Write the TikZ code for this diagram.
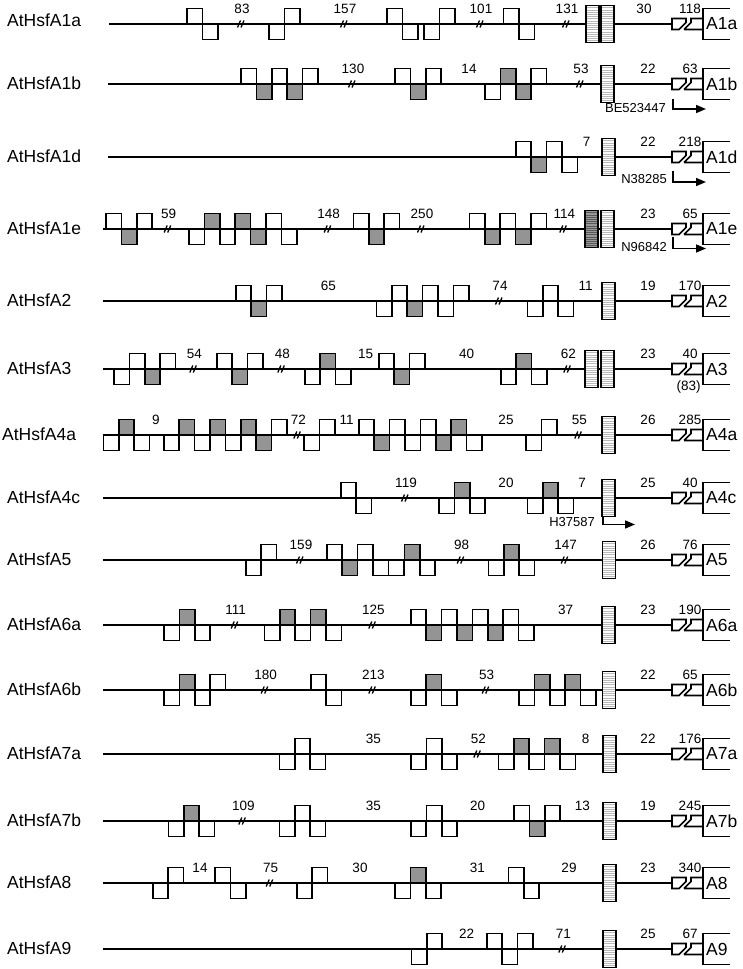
\documentclass[tikz,border=0pt]{standalone}
\usepackage{fontspec}
\setmainfont{Liberation Sans}
\usetikzlibrary{arrows.meta,positioning}
\colorlet{ex0}{white}
\colorlet{ex1}{black!42}

% exons: x/side/colour, side -1 above the line, 1 below
\newcommand{\exons}[1]{\foreach \xa/\sd/\fc in {#1}
  \draw[exon,fill=\fc] (\xa,0) rectangle ++(15.4,\sd*15.4);}
% broken introns with their length
\newcommand{\gaps}[1]{\foreach \xa/\t [count=\i] in {#1}{
  \draw[brk] (\xa-4.5,3.5) -- (\xa-1.5,-3.5) (\xa-1,3.5) -- (\xa+2,-3.5);
  \node[num] (br\rw-\i) at (\xa,-15) {\t};}}
\newcommand{\introns}[1]{\foreach \xa/\t [count=\i] in {#1}
  \node[num] (in\rw-\i) at (\xa,-15) {\t};}
% hatched box
\newcommand{\hrdomain}[3]{
  \fill[#2] (#1,-18.5) rectangle ++(13,37);
  \foreach \k in {-16.5,-14.3,...,17} \draw[#3,line width=0.35pt] (#1,\k) -- ++(13,0);
  \draw[exon] (#1,-18.5) rectangle ++(13,37);}
% C-terminal end
\newcommand{\cterm}[2]{
  \draw[exon,fill=white] (686,-5.5) -- (672,-5.5) -- (672,5.5) -- (679,5.5) -- (686,-1.5) -- cycle;
  \draw[exon] (684,5.5) -- (691,-1.5) -- (691,-5.5) -- (703,-5.5) (684,5.5) -- (703,5.5);
  \draw[exon] (730,-15.5) -- (703,-15.5) -- (703,15.5) -- (730,15.5);
  \node[num] (cl\rw) at (690,-15) {#1};
  \node[tname] (cn\rw) at (706,0) {#2};}

\begin{document}
\begin{tikzpicture}[x=1pt,y=-1pt,
  stem/.style={line width=1.6pt},
  exon/.style={draw,line width=1.6pt},
  brk/.style={line width=1.3pt},
  num/.style={font=\fontsize{13.5}{15}\selectfont,inner sep=0pt},
  gname/.style={font=\fontsize{17.5}{20}\selectfont,anchor=west,inner sep=0pt},
  tname/.style={font=\fontsize{17.5}{20}\selectfont,anchor=west,inner sep=0pt},
  acc/.style={font=\fontsize{13}{15}\selectfont,anchor=east,inner sep=0pt},
  tss/.style={line width=1.5pt,-{Triangle[length=10pt,width=8pt]}}]
\useasboundingbox (0,0) rectangle (742,969);

% A1a
\begin{scope}[yshift=-24pt]\def\rw{1}
\node[gname] (g\rw) at (7,-4) {AtHsfA1a};
\draw[stem] (109,0) -- (672,0);
\exons{187/-1/ex0, 202.4/1/ex0, 269/1/ex0, 284.4/-1/ex0, 387/-1/ex0, 402.4/1/ex0, 424/1/ex0, 439.4/-1/ex0, 503.5/-1/ex0, 518.9/1/ex0}
\gaps{242/83, 345/157, 481/101, 567/131}
\introns{644/30}
\hrdomain{586}{white}{gray!55}\hrdomain{601}{white}{gray!55}
\cterm{118}{A1a}
\end{scope}

% A1b
\begin{scope}[yshift=-84pt]\def\rw{2}
\node[gname] (g\rw) at (7,-1) {AtHsfA1b};
\draw[stem] (108,0) -- (672,0);
\exons{241/-1/ex0, 256.4/1/ex1, 271.8/-1/ex0, 287.2/1/ex1, 302.6/-1/ex0, 395/-1/ex0, 410.4/1/ex1, 425.8/-1/ex0, 485/1/ex0, 500.4/-1/ex1, 515.8/1/ex1, 531.2/-1/ex0}
\gaps{353/130, 581/53}
\introns{469/14, 648/22}
\hrdomain{601}{white}{gray!55}
\cterm{63}{A1b}
\node[acc] (ac\rw) at (666,24) {BE523447};
\coordinate (ts\rw) at (673,15); \coordinate (te\rw) at (706,25);
\draw[tss] (ts\rw) |- (te\rw);
\end{scope}

% A1d
\begin{scope}[yshift=-157pt]\def\rw{3}
\node[gname] (g\rw) at (7,-1) {AtHsfA1d};
\draw[stem] (108,0) -- (672,0);
\exons{515.7/-1/ex0, 531.1/1/ex1, 546.5/-1/ex0, 561.9/1/ex0}
\introns{586.7/7, 648/22}
\hrdomain{602}{white}{gray!55}
\cterm{218}{A1d}
\node[acc] (ac\rw) at (667,22) {N38285};
\coordinate (ts\rw) at (673,13.5); \coordinate (te\rw) at (706,25);
\draw[tss] (ts\rw) |- (te\rw);
\end{scope}

% A1e
\begin{scope}[yshift=-229pt]\def\rw{4}
\node[gname] (g\rw) at (7,-1) {AtHsfA1e};
\draw[stem] (102.7,0) -- (672,0);
\exons{106/-1/ex0, 121.4/1/ex1, 136.8/-1/ex0, 189/1/ex0, 204.4/-1/ex1, 219.8/1/ex0, 235.2/-1/ex1, 250.6/1/ex1, 266/-1/ex0, 281.4/1/ex0, 353.3/-1/ex0, 368.7/1/ex1, 384.1/-1/ex0, 469.3/-1/ex0, 484.7/1/ex1, 500.1/-1/ex0, 515.5/1/ex1, 530.9/-1/ex0}
\gaps{168.7/59, 328.7/148, 422/250, 564.3/114}
\introns{648/23}
\hrdomain{584.7}{black!40}{black!65}\hrdomain{601}{white}{gray!55}
\cterm{65}{A1e}
\node[acc] (ac\rw) at (667,18) {N96842};
\coordinate (ts\rw) at (673,8); \coordinate (te\rw) at (706,19.5);
\draw[tss] (ts\rw) |- (te\rw);
\end{scope}

% A2
\begin{scope}[yshift=-301pt]\def\rw{5}
\node[gname] (g\rw) at (7,-1) {AtHsfA2};
\draw[stem] (102.7,0) -- (672,0);
\exons{235.7/-1/ex0, 251.1/1/ex1, 266.5/-1/ex0, 376.3/1/ex0, 391.7/-1/ex0, 407.1/1/ex1, 422.5/-1/ex0, 437.9/1/ex0, 453.3/-1/ex0, 527.3/1/ex0, 542.7/-1/ex0, 558.1/1/ex0}
\gaps{500/74}
\introns{328.3/65, 585.7/11, 648/19}
\hrdomain{602}{white}{gray!55}
\cterm{170}{A2}
\end{scope}

% A3
\begin{scope}[yshift=-369pt]\def\rw{6}
\node[gname] (g\rw) at (7,-1) {AtHsfA3};
\draw[stem] (102.7,0) -- (672,0);
\exons{114/1/ex0, 129.4/-1/ex0, 144.8/1/ex1, 160.2/-1/ex0, 216.7/-1/ex0, 232.1/1/ex1, 247.5/-1/ex0, 304.7/1/ex0, 320.1/-1/ex1, 335.5/1/ex0, 378.7/-1/ex0, 394.1/1/ex1, 409.5/-1/ex0, 500.7/1/ex0, 516.1/-1/ex1, 531.5/1/ex0}
\gaps{194.3/54, 282.3/48, 568.3/62}
\introns{365.7/15, 466.7/40, 648/23}
\hrdomain{584.7}{white}{gray!55}\hrdomain{601}{white}{gray!55}
\cterm{40}{A3}
\node[num] (ex\rw) at (688.7,18) {(83)};
\end{scope}

% A4a
\begin{scope}[yshift=-435pt]\def\rw{7}
\node[gname] (g\rw) at (2,-1) {AtHsfA4a};
\draw[stem] (102.7,0) -- (672,0);
\exons{103.3/1/ex0, 118.7/-1/ex1, 134.1/1/ex0, 163.7/1/ex0, 179.1/-1/ex1, 194.5/1/ex0, 209.9/-1/ex1, 225.3/1/ex0, 240.7/-1/ex1, 256.1/1/ex1, 271.5/-1/ex0, 304/1/ex0, 319.4/-1/ex0, 358.7/-1/ex0, 374.1/1/ex1, 389.5/-1/ex0, 404.9/1/ex0, 420.3/-1/ex0, 435.7/1/ex1, 451.1/-1/ex1, 466.5/1/ex0, 526/1/ex0, 541.4/-1/ex0}
\gaps{298.3/72, 579.3/55}
\introns{156/9, 346.7/11, 506/25, 648/26}
\hrdomain{601.7}{white}{gray!55}
\cterm{285}{A4a}
\end{scope}

% A4c
\begin{scope}[yshift=-498pt]\def\rw{8}
\node[gname] (g\rw) at (7,-1) {AtHsfA4c};
\draw[stem] (102.7,0) -- (672,0);
\exons{340.7/-1/ex0, 356.1/1/ex0, 439/1/ex0, 454.4/-1/ex1, 469.8/1/ex0, 527.3/1/ex0, 542.7/-1/ex1, 558.1/1/ex0}
\gaps{406/119}
\introns{506/20, 582/7, 648/25}
\hrdomain{602}{white}{gray!55}
\cterm{40}{A4c}
\node[acc] (ac\rw) at (595,24) {H37587};
\coordinate (ts\rw) at (603,18.5); \coordinate (te\rw) at (635,26.5);
\draw[tss] (ts\rw) |- (te\rw);
\end{scope}

% A5
\begin{scope}[yshift=-560pt]\def\rw{9}
\node[gname] (g\rw) at (7,-1) {AtHsfA5};
\draw[stem] (102.7,0) -- (672,0);
\exons{245.7/1/ex0, 261.1/-1/ex0, 326.7/-1/ex0, 342.1/1/ex1, 357.5/-1/ex0, 372.9/1/ex0, 388.3/1/ex0, 404.3/-1/ex1, 419.7/1/ex0, 488.3/1/ex0, 503.7/-1/ex1, 519.1/1/ex0}
\gaps{301/159, 461.7/98, 565.7/147}
\introns{648/26}
\hrdomain{602.3}{white}{gray!55}
\cterm{76}{A5}
\end{scope}

% A6a
\begin{scope}[yshift=-625pt]\def\rw{10}
\node[gname] (g\rw) at (7,-1) {AtHsfA6a};
\draw[stem] (102.7,0) -- (672,0);
\exons{164/1/ex0, 179.4/-1/ex1, 194.8/1/ex0, 264.3/1/ex0, 279.7/-1/ex1, 295.1/1/ex0, 310.5/-1/ex1, 325.9/1/ex0, 410.7/-1/ex0, 426.1/1/ex1, 441.5/-1/ex0, 456.9/1/ex1, 472.3/-1/ex0, 487.7/1/ex1, 503.1/-1/ex0, 518.5/1/ex0}
\gaps{235.7/111, 373.3/125}
\introns{565.7/37, 648/23}
\hrdomain{602}{white}{gray!55}
\cterm{190}{A6a}
\end{scope}

% A6b
\begin{scope}[yshift=-690pt]\def\rw{11}
\node[gname] (g\rw) at (7,-1) {AtHsfA6b};
\draw[stem] (102.7,0) -- (672,0);
\exons{164/1/ex0, 179.4/-1/ex1, 194.8/1/ex0, 210.2/-1/ex0, 310.7/-1/ex0, 326.1/1/ex0, 410.7/1/ex0, 426.1/-1/ex1, 441.5/1/ex0, 519/1/ex0, 534.4/-1/ex1, 549.8/1/ex0, 565.2/-1/ex1, 580.6/1/ex0}
\gaps{265.7/180, 373.3/213, 486.7/53}
\introns{648/22}
\hrdomain{602.3}{white}{gray!55}
\cterm{65}{A6b}
\end{scope}

% A7a
\begin{scope}[yshift=-754pt]\def\rw{12}
\node[gname] (g\rw) at (7,-1) {AtHsfA7a};
\draw[stem] (102.7,0) -- (672,0);
\exons{279.3/1/ex0, 294.7/-1/ex0, 310.1/1/ex0, 410.7/1/ex0, 426.3/-1/ex0, 441.7/1/ex0, 498.3/1/ex0, 513.7/-1/ex1, 529.1/1/ex0, 544.5/-1/ex1, 559.9/1/ex0}
\gaps{478.3/52}
\introns{373.3/35, 585.7/8, 648/22}
\hrdomain{602.7}{white}{gray!55}
\cterm{176}{A7a}
\end{scope}

% A7b
\begin{scope}[yshift=-821pt]\def\rw{13}
\node[gname] (g\rw) at (7,-1) {AtHsfA7b};
\draw[stem] (102.7,0) -- (672,0);
\exons{168.3/1/ex0, 183.7/-1/ex1, 199.1/1/ex0, 279.3/1/ex0, 294.7/-1/ex0, 310.1/1/ex0, 410.7/1/ex0, 426.3/-1/ex0, 441.7/1/ex0, 514/-1/ex0, 529.4/1/ex1, 544.8/-1/ex0}
\gaps{243.3/109}
\introns{373.3/35, 477.7/20, 582.3/13, 648/19}
\hrdomain{602.7}{white}{gray!55}
\cterm{245}{A7b}
\end{scope}

% A8
\begin{scope}[yshift=-883pt]\def\rw{14}
\node[gname] (g\rw) at (7,-1) {AtHsfA8};
\draw[stem] (102.7,0) -- (672,0);
\exons{152.7/1/ex0, 168.1/-1/ex0, 215/-1/ex0, 230.4/1/ex0, 296.7/1/ex0, 312.1/-1/ex0, 395/1/ex0, 410.4/-1/ex1, 425.8/1/ex0, 508.3/-1/ex0, 523.7/1/ex0}
\gaps{270.7/75}
\introns{200/14, 360/30, 477.3/31, 569/29, 648/23}
\hrdomain{602.7}{white}{gray!55}
\cterm{340}{A8}
\end{scope}

% A9
\begin{scope}[yshift=-949pt]\def\rw{15}
\node[gname] (g\rw) at (7,-1) {AtHsfA9};
\draw[stem] (102.7,0) -- (672,0);
\exons{411.3/1/ex0, 426.7/-1/ex0, 486.7/-1/ex0, 502.1/1/ex0, 517.5/-1/ex0}
\gaps{563.3/71}
\introns{466.7/22, 648/25}
\hrdomain{602.7}{white}{gray!55}
\cterm{67}{A9}
\end{scope}
\end{tikzpicture}
\end{document}
